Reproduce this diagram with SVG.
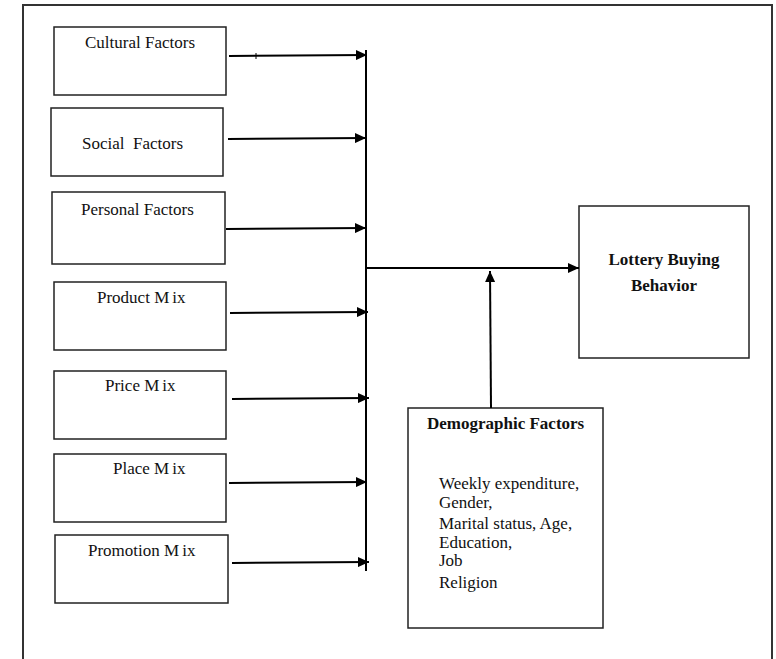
<svg xmlns="http://www.w3.org/2000/svg" width="776" height="659" viewBox="0 0 776 659">
<defs>
<marker id="ah" markerWidth="12" markerHeight="10" refX="11" refY="5" orient="auto" markerUnits="userSpaceOnUse">
<path d="M0,0 L11,5 L0,10 Z" fill="#000"/>
</marker>
<style>
.box{fill:#fff;stroke:#222;stroke-width:1.5}
.t{font-family:"Liberation Serif","Times New Roman",serif;font-size:17px;fill:#111}
.b{font-family:"Liberation Serif","Times New Roman",serif;font-size:17px;font-weight:bold;fill:#111}
.c{stroke:#000;stroke-width:2;fill:none}
.ca{stroke:#000;stroke-width:2;fill:none;marker-end:url(#ah)}
</style>
</defs>
<rect x="23" y="5" width="749" height="700" fill="#fff" stroke="#333" stroke-width="2"/>
<g id="cultural"><rect class="box" x="54" y="27" width="172" height="68"/><text class="t" x="85" y="48">Cultural Factors</text></g>
<g id="social"><rect class="box" x="51" y="108" width="172" height="68"/><text class="t" x="82" y="149" xml:space="preserve">Social  Factors</text></g>
<g id="personal"><rect class="box" x="52" y="192" width="173" height="72"/><text class="t" x="81" y="215">Personal Factors</text></g>
<g id="product"><rect class="box" x="54" y="282" width="172" height="68"/><text class="t" x="97" y="303">Product M<tspan dx="3">ix</tspan></text></g>
<g id="price"><rect class="box" x="54" y="371" width="172" height="68"/><text class="t" x="105" y="391">Price M<tspan dx="3">ix</tspan></text></g>
<g id="place"><rect class="box" x="54" y="454" width="172" height="68"/><text class="t" x="113" y="474">Place M<tspan dx="3">ix</tspan></text></g>
<g id="promotion"><rect class="box" x="55" y="535" width="173" height="68"/><text class="t" x="88" y="556">Promotion M<tspan dx="3">ix</tspan></text></g>
<g id="lottery"><rect class="box" x="579" y="206" width="170" height="152"/><text class="b" x="664" y="265" text-anchor="middle">Lottery Buying</text><text class="b" x="664" y="291" text-anchor="middle">Behavior</text></g>
<g id="demographic"><rect class="box" x="408" y="408" width="195" height="220"/>
<text class="b" x="427" y="429">Demographic Factors</text>
<text class="t" x="439" y="489">Weekly expenditure,</text>
<text class="t" x="439" y="508">Gender,</text>
<text class="t" x="439" y="529">Marital status, Age,</text>
<text class="t" x="439" y="548">Education,</text>
<text class="t" x="439" y="566">Job</text>
<text class="t" x="439" y="588">Religion</text>
</g>
<g id="connectors">
<line class="c" x1="366" y1="50" x2="366" y2="571"/>
<line x1="256" y1="53" x2="256" y2="59" stroke="#000" stroke-width="1"/>
<line class="ca" x1="229" y1="56" x2="367" y2="55"/>
<line class="ca" x1="228" y1="139" x2="366" y2="138"/>
<line class="ca" x1="226" y1="229" x2="366" y2="228"/>
<line class="ca" x1="230" y1="313" x2="368" y2="312"/>
<line class="ca" x1="232" y1="399" x2="369" y2="398"/>
<line class="ca" x1="229" y1="483" x2="367" y2="482"/>
<line class="ca" x1="232" y1="563" x2="369" y2="562"/>
<line class="ca" x1="366" y1="268" x2="579" y2="268"/>
<line class="ca" x1="491" y1="408" x2="490" y2="271"/>
</g>
</svg>
